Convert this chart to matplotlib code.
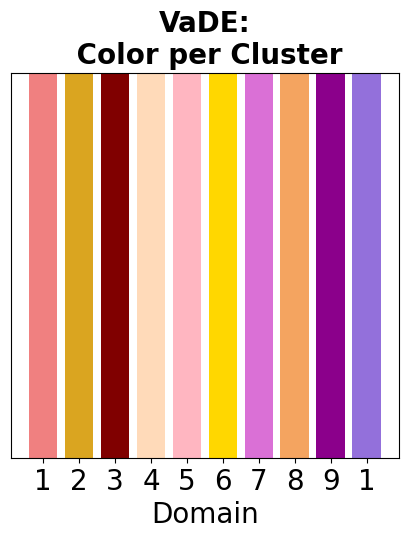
import matplotlib
matplotlib.use("Agg")
from matplotlib import pyplot as plt

clusters = [1, 2, 3, 4, 5, 6, 7, 8, 9, 10]
tick_labels = ["1", "2", "3", "4", "5", "6", "7", "8", "9", "1"]
heights = [1, 1, 1, 1, 1, 1, 1, 1, 1, 1]
colors = ["lightcoral", "goldenrod", "maroon", "peachpuff", "lightpink",
          "gold", "orchid", "sandybrown", "darkmagenta", "mediumpurple"]

fig = plt.figure(figsize=(4.07, 5.39), dpi=100)
ax = fig.add_axes([0.027, 0.150, 0.953, 0.715])
ax.bar(clusters, heights, color=colors, width=0.8)
ax.set_ylim(0, 1)
ax.set_yticks([])
ax.set_xticks(clusters)
ax.set_xticklabels(tick_labels, fontsize=20)
ax.set_xlabel("Domain", fontsize=20)
ax.set_title("VaDE:\n Color per Cluster", fontsize=20, fontweight="bold")

fig.savefig("out.png", dpi=100)
